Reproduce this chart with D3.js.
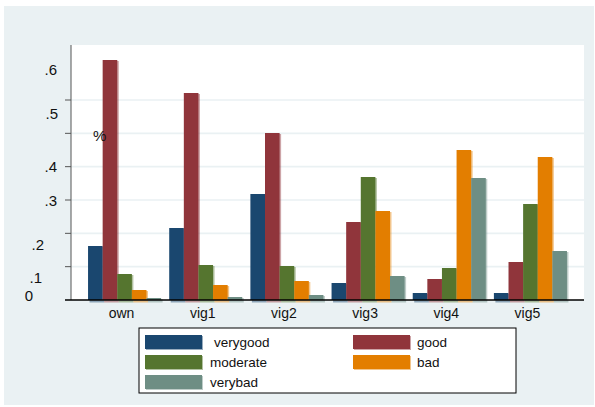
<!DOCTYPE html>
<html>
<head>
<meta charset="utf-8">
<script src="https://cdn.jsdelivr.net/npm/d3@7"></script>
<style>
  body { margin: 0; background: #fff; }
  svg { display: block; font-family: 'Liberation Sans', Arial, sans-serif; }
</style>
</head>
<body>
<div id="graph"></div>
<script>
// categories and series
var groups = ['own', 'vig1', 'vig2', 'vig3', 'vig4', 'vig5']
var series = ['verygood', 'good', 'moderate', 'bad', 'verybad']

// share per group, one array per series (order = groups)
var verygood = [0.162, 0.216, 0.318, 0.051, 0.021, 0.021]
var good     = [0.720, 0.621, 0.501, 0.234, 0.063, 0.114]
var moderate = [0.078, 0.105, 0.102, 0.369, 0.096, 0.288]
var bad      = [0.030, 0.045, 0.057, 0.267, 0.450, 0.429]
var verybad  = [0.006, 0.009, 0.015, 0.072, 0.366, 0.147]

// y axis: grid/tick values, and the labels as they sit in the picture
var gridVals = [0.1, 0.2, 0.3, 0.4, 0.5, 0.6]
var yLabels  = ['.6', '.5', '%', '.4', '.3', '.2', '.1', '0']
var yLabelAt = [0.692, 0.559, 0.492, 0.399, 0.299, 0.165, 0.068, 0.012]

var colors = ['#1a476f', '#90353b', '#55752f', '#e37e00', '#6e8e84']
var values = [verygood, good, moderate, bad, verybad]

var W = 595, H = 407
var svg = d3.select('#graph').append('svg').attr('width', W).attr('height', H)

// outer graph region
svg.append('rect').attr('x', 4).attr('y', 6).attr('width', 590).attr('height', 399)
  .attr('fill', '#eaf1f3')

var plot = {left: 71, right: 584, top: 45, bottom: 300}
svg.append('rect')
  .attr('x', plot.left).attr('y', plot.top)
  .attr('width', plot.right - plot.left).attr('height', plot.bottom - plot.top)
  .attr('fill', '#fff')

var x0 = d3.scaleBand().domain(groups)
  .range([plot.left, plot.right]).paddingInner(0.1).paddingOuter(0.21)
var x1 = d3.scaleBand().domain(series).range([0, x0.bandwidth()])
var y = d3.scaleLinear().domain([0, 0.765]).range([plot.bottom, plot.top])

// grid
svg.append('g').selectAll('line').data(gridVals).join('line')
  .attr('x1', plot.left).attr('x2', plot.right)
  .attr('y1', d => y(d)).attr('y2', d => y(d))
  .attr('stroke', '#eaf1f3').attr('stroke-width', 1.6)

// bars
var rows = []
groups.forEach((g, gi) => series.forEach((s, si) => {
  rows.push({g, s, v: values[si][gi], c: colors[si]})
}))

var barG = svg.append('g')
barG.selectAll('rect.shadow').data(rows).join('rect')
  .attr('class', 'shadow')
  .attr('x', d => x0(d.g) + x1(d.s) + 1.5)
  .attr('y', d => y(d.v) + 1)
  .attr('width', x1.bandwidth())
  .attr('height', d => y(0) - y(d.v) + 1.5)
  .attr('fill', d => d.c).attr('fill-opacity', 0.45)
barG.selectAll('rect.bar').data(rows).join('rect')
  .attr('class', 'bar')
  .attr('x', d => x0(d.g) + x1(d.s))
  .attr('y', d => y(d.v))
  .attr('width', x1.bandwidth())
  .attr('height', d => y(0) - y(d.v))
  .attr('fill', d => d.c)

// axes
svg.append('line')
  .attr('x1', plot.left).attr('x2', plot.left)
  .attr('y1', plot.top).attr('y2', plot.bottom)
  .attr('stroke', '#555').attr('stroke-width', 1)
svg.append('g').selectAll('line').data(gridVals).join('line')
  .attr('x1', plot.left - 6).attr('x2', plot.left)
  .attr('y1', d => y(d)).attr('y2', d => y(d))
  .attr('stroke', '#555')
svg.append('line')
  .attr('x1', plot.left - 6).attr('x2', plot.right)
  .attr('y1', y(0)).attr('y2', y(0))
  .attr('stroke', '#000').attr('stroke-width', 1.3)

// y labels, right edges as drawn in the picture
var labelRight = {'.6': 57, '.5': 58, '.4': 57, '.3': 57, '.2': 44, '.1': 42, '0': 33}
svg.append('g').selectAll('text').data(yLabels).join('text')
  .attr('x', d => d == '%' ? 93 : labelRight[d])
  .attr('y', (d, i) => y(yLabelAt[i]))
  .attr('dy', '0.35em')
  .attr('text-anchor', d => d == '%' ? 'start' : 'end')
  .attr('font-size', 15)
  .attr('fill', '#111')
  .text(d => d)

// x labels
svg.append('g').selectAll('text').data(groups).join('text')
  .attr('x', d => x0(d) + x0.bandwidth() / 2 - 3)
  .attr('y', 318)
  .attr('text-anchor', 'middle')
  .attr('font-size', 14)
  .attr('fill', '#111')
  .text(d => d)

// legend
var leg = svg.append('g')
leg.append('rect').attr('x', 139).attr('y', 328).attr('width', 377).attr('height', 65)
  .attr('fill', '#fff').attr('stroke', '#000').attr('stroke-width', 1)
var legItems = leg.selectAll('g').data(series).join('g')
  .attr('transform', (d, i) => `translate(${i % 2 ? 353 : 145},${335 + Math.floor(i / 2) * 20})`)
legItems.append('rect').attr('x', 1).attr('y', 1).attr('width', 57).attr('height', 14)
  .attr('fill', (d, i) => colors[i]).attr('fill-opacity', 0.45)
legItems.append('rect').attr('width', 57).attr('height', 14)
  .attr('fill', (d, i) => colors[i])
legItems.append('text')
  .attr('x', (d, i) => i == 0 ? 69 : i % 2 ? 64 : 65)
  .attr('y', 7).attr('dy', '0.35em')
  .attr('font-size', 13.5).attr('fill', '#111')
  .text(d => d)
</script>
</body>
</html>
